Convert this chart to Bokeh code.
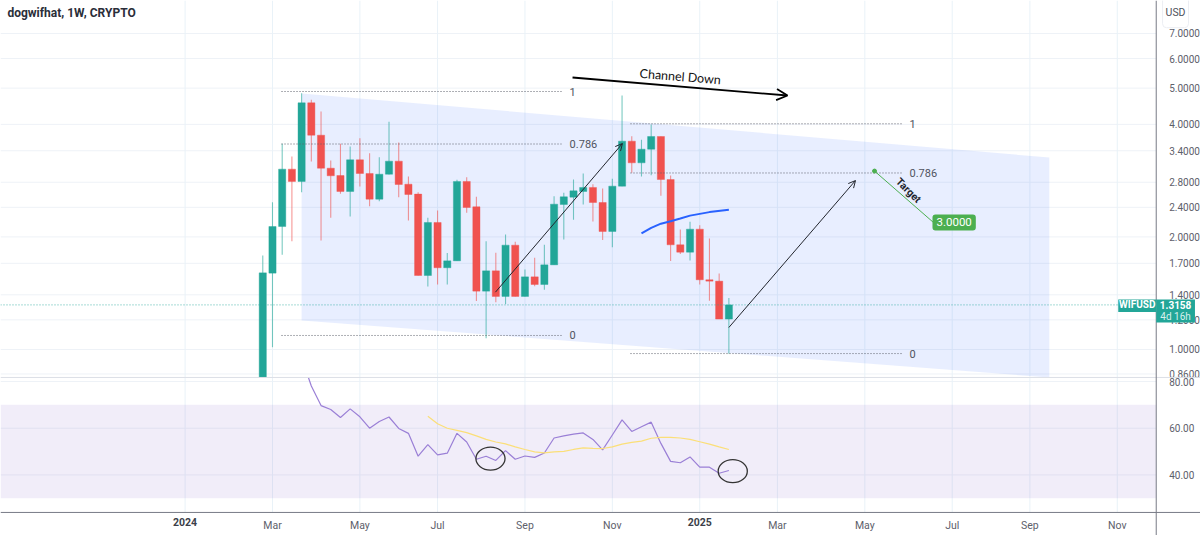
import datetime as dt
import math
from bokeh.embed import file_html
from bokeh.models import (Arrow, BoxAnnotation, ColumnDataSource, Ellipse, FixedTicker, Label, LinearScale,
                          OpenHead, PrintfTickFormatter, Range1d, Span)
from bokeh.plotting import figure
from bokeh.resources import INLINE

# ---- data ----
first_week = dt.datetime(2024, 2, 26)
opens = [0.8416, 1.600, 2.132, 3.036, 2.814, 4.567, 3.742, 3.054, 2.919, 2.646, 3.215, 2.956, 2.524, 2.943, 3.189, 2.768,
         2.603, 1.577, 2.186, 1.654, 1.726, 2.814, 2.407, 1.432, 1.623, 1.386, 1.901, 1.386, 1.564, 1.492, 1.684, 2.442,
         2.555, 2.646, 2.712, 2.472, 2.068, 2.734, 3.607, 3.156, 3.433, 3.712, 2.848, 1.905, 1.821, 2.098, 1.536, 1.523, 1.206]
highs = [1.784, 2.477, 3.548, 3.282, 4.846, 4.652, 4.330, 3.202, 3.548, 3.490, 3.674, 3.350, 3.268, 4.063, 3.578, 2.902,
         2.635, 2.250, 2.354, 1.810, 2.842, 2.890, 2.560, 1.948, 1.813, 2.030, 1.940, 1.636, 1.759, 1.905, 2.571, 2.624,
         2.848, 2.956, 2.768, 2.695, 2.860, 4.778, 3.719, 3.636, 3.996, 3.712, 2.919, 2.094, 2.195, 2.150, 1.981, 1.597, 1.372]
lows = [0.8416, 1.014, 1.791, 1.948, 2.635, 3.183, 1.956, 2.250, 2.608, 2.268, 2.728, 2.417, 2.493, 2.938, 2.555, 2.213,
        1.577, 1.474, 1.492, 1.492, 1.726, 2.320, 1.347, 1.072, 1.338, 1.322, 1.386, 1.386, 1.477, 1.444, 1.684, 1.968,
        2.222, 2.442, 2.199, 1.961, 1.878, 2.734, 2.968, 2.902, 2.926, 2.576, 1.723, 1.799, 1.730, 1.492, 1.349, 1.206, 0.974]
closes = [1.603, 2.132, 3.036, 2.814, 4.567, 3.742, 3.054, 2.914, 2.646, 3.215, 2.956, 2.524, 2.943, 3.189, 2.762, 2.597,
          1.577, 2.186, 1.654, 1.726, 2.814, 2.397, 1.432, 1.623, 1.386, 1.901, 1.386, 1.564, 1.492, 1.684, 2.447, 2.560,
          2.656, 2.712, 2.472, 2.068, 2.734, 3.607, 3.156, 3.433, 3.712, 2.848, 1.905, 1.821, 2.098, 1.536, 1.523, 1.206, 1.3158]
rsi_weeks = [4.7] + list(range(5, 49))
rsi_values = [81.7, 78.1, 69.7, 68.0, 64.6, 68.3, 64.9, 60.0, 62.9, 64.8, 59.9, 57.8, 48.0, 53.0, 48.6, 49.3, 57.8, 54.1,
              46.7, 48.0, 46.2, 50.4, 46.7, 48.1, 47.5, 49.4, 55.8, 56.7, 57.5, 58.0, 55.2, 50.7, 57.1, 63.6, 58.6, 60.6,
              62.6, 53.5, 45.8, 45.2, 47.7, 43.3, 43.3, 40.7, 41.9]
rsi_ma_first_index = 17
rsi_ma_values = [65.1, 61.9, 60.0, 59.1, 58.1, 56.7, 55.2, 54.1, 53.3, 52.0, 50.9, 49.9, 49.4, 49.9, 50.1, 50.9, 51.6, 51.4,
                 51.3, 52.0, 53.2, 53.9, 54.5, 55.7, 56.1, 56.1, 55.8, 55.2, 54.2, 53.2, 52.0, 50.9]
price_ticks = [0.86, 1.0, 1.2, 1.4, 1.7, 2.0, 2.4, 2.8, 3.4, 4.0, 5.0, 6.0, 7.0]
rsi_ticks = [40, 60, 80]
month_tick_weeks = [1, 10, 18, 27, 36, 53, 62, 71, 79, 88]
month_tick_labels = ["Mar", "May", "Jul", "Sep", "Nov", "Mar", "May", "Jul", "Sep", "Nov"]
year_tick_weeks = [-8, 45]
year_tick_labels = ["2024", "2025"]
last_price = 1.3158

# drawings, in weeks from the first candle and price
channel_weeks = [4, 81, 81, 4]
channel_prices = [4.837, 3.262, 0.8416, 1.196]
curve_weeks = [39, 40, 41, 42, 43, 44, 46, 48]
curve_prices = [2.043, 2.115, 2.17, 2.203, 2.24, 2.28, 2.33, 2.363]
fib_left_weeks = [1.93, 30.76]
fib_left_prices = [4.897, 3.544, 1.090]
fib_right_weeks = [37.87, 65.87]
fib_right_prices = [4.014, 2.965, 0.975]
fib_labels = ["1", "0.786", "0"]
up_arrow_a = [23.96, 1.423, 37.04, 3.555]
up_arrow_b = [48.0, 1.145, 61.04, 2.83]
channel_arrow = [31.9, 5.338, 54.04, 4.778]
target_line = [63.0, 3.0, 69.07, 2.186]
rsi_circles = [(23.45, 47.0), (48.4, 41.6)]

WEEK_MS = 7 * 24 * 3600 * 1000
T0 = first_week.replace(tzinfo=dt.timezone.utc).timestamp() * 1000


def wk(i):
    return T0 + i * WEEK_MS


FONT = "Roboto"
GRID = "#eef2f7"
AXIS = "#787b86"
TEXT = "#50535e"
UP = "#22a698"
DOWN = "#f0524f"
PRICE_LO, PRICE_HI = 0.318, 8.577
RSI_LO, RSI_HI = 14.05, 243.2
PANE_FLOOR = 0.8416   # price at the foot of the price pane
TIME_FLOOR = 0.3665   # level of the time axis
X_END = 92.01         # week at the price axis


def rsi_to_price(v):
    f = (v - RSI_LO) / (RSI_HI - RSI_LO)
    return math.exp(math.log(PRICE_LO) + f * (math.log(PRICE_HI) - math.log(PRICE_LO)))


p = figure(width=1200, height=535, frame_width=1200, frame_height=535, y_axis_type="log",
           x_range=Range1d(wk(-27.01), wk(96.57)), y_range=Range1d(PRICE_LO, PRICE_HI),
           y_axis_location="right", output_backend="svg", toolbar_location=None)
p.extra_y_ranges = {"rsi": Range1d(RSI_LO, RSI_HI)}
p.extra_y_scales = {"rsi": LinearScale()}
p.min_border_left = p.min_border_top = p.min_border_bottom = p.min_border_right = 0
p.outline_line_color = None
p.grid.visible = False

# grid lines, only up to the axes
rsi_tick_pos = [rsi_to_price(v) for v in rsi_ticks]
all_y = price_ticks + rsi_tick_pos
p.segment([wk(-27.01)] * len(all_y), all_y, [wk(X_END)] * len(all_y), all_y, line_color=GRID, line_width=1, level="underlay")
xt = month_tick_weeks + year_tick_weeks
p.segment([wk(w) for w in xt], [TIME_FLOOR] * len(xt), [wk(w) for w in xt], [PRICE_HI] * len(xt), line_color="#e9f2f8", line_width=1, level="underlay")

ya = p.yaxis[0]
ya.fixed_location = wk(X_END)
ya.ticker = FixedTicker(ticks=all_y)
ya.formatter = PrintfTickFormatter(format="%.4f")
ya.major_label_overrides = {pos: f"{v:.2f}" for pos, v in zip(rsi_tick_pos, rsi_ticks)}
ya.axis_line_color = None
ya.major_tick_line_color = None
ya.minor_tick_line_color = None
ya.major_label_standoff = 7
ya.major_label_text_font = FONT
ya.major_label_text_font_size = "10px"
ya.major_label_text_color = "#5d606b"

xa = p.xaxis[0]
xa.fixed_location = TIME_FLOOR
xa.ticker = FixedTicker(ticks=[wk(w) for w in xt])
xa.major_label_overrides = {wk(w): l for w, l in zip(month_tick_weeks, month_tick_labels)} | {wk(w): " " for w in year_tick_weeks}
xa.axis_line_color = None
xa.major_tick_line_color = None
xa.minor_tick_line_color = None
xa.major_label_standoff = 1
xa.major_label_text_font = FONT
xa.major_label_text_font_size = "10.5px"
xa.major_label_text_color = "#5d606b"
for w, l in zip(year_tick_weeks, year_tick_labels):
    p.add_layout(Label(x=wk(w), y=0.3446, text=l, text_font=FONT, text_font_size="10.5px", text_color="#3c3f49",
                       text_font_style="bold", text_align="center", text_baseline="middle"))

# pane separator and axis lines
p.add_layout(Span(location=PANE_FLOOR, dimension="width", line_color="#dcdfe6", line_width=1))
p.add_layout(Span(location=TIME_FLOOR, dimension="width", line_color=AXIS, line_width=1))
p.add_layout(Span(location=wk(X_END), dimension="height", line_color=AXIS, line_width=1))

# ---- price pane ----
p.patch([wk(w) for w in channel_weeks], channel_prices, fill_color="#2962ff", fill_alpha=0.105, line_color=None)

x_all = [wk(i) for i in range(len(opens))]
colors = [UP if c >= o else DOWN for o, c in zip(opens, closes)]
src = ColumnDataSource(dict(x=x_all, o=opens, h=highs, l=lows, c=closes,
                            top=[max(a, b) for a, b in zip(opens, closes)],
                            bot=[min(a, b) for a, b in zip(opens, closes)], color=colors))
p.segment("x", "h", "x", "l", source=src, line_color="color", line_alpha=0.6, line_width=1.1)
p.vbar("x", width=0.74 * WEEK_MS, top="top", bottom="bot", source=src, fill_color="color", line_color="color", line_width=0.4)

p.line([wk(-27.01), wk(88.1)], [last_price, last_price], line_color=UP, line_alpha=0.8, line_width=1, line_dash=[1, 2])

for price in fib_left_prices:
    p.line([wk(w) for w in fib_left_weeks], [price, price], line_color="#5d606b", line_width=1, line_dash=[1, 2])
for price in fib_right_prices:
    p.line([wk(w) for w in fib_right_weeks], [price, price], line_color="#5d606b", line_width=1, line_dash=[1, 2])
for label, price in zip(fib_labels, fib_left_prices):
    p.add_layout(Label(x=wk(31.6), y=price, text=label, text_font=FONT, text_font_size="11px", text_color=TEXT, text_baseline="middle"))
for label, price in zip(fib_labels, fib_right_prices):
    p.add_layout(Label(x=wk(66.6), y=price, text=label, text_font=FONT, text_font_size="11px", text_color=TEXT, text_baseline="middle"))

p.line([wk(w) for w in curve_weeks], curve_prices, line_color="#2962ff", line_width=2)

for a in (up_arrow_a, up_arrow_b):
    p.add_layout(Arrow(x_start=wk(a[0]), y_start=a[1], x_end=wk(a[2]), y_end=a[3], line_color="#22252d", line_width=1,
                       end=OpenHead(size=7, line_color="#22252d", line_width=1)))
a = channel_arrow
p.add_layout(Arrow(x_start=wk(a[0]), y_start=a[1], x_end=wk(a[2]), y_end=a[3], line_color="#000000", line_width=1.8,
                   end=OpenHead(size=11, line_color="#000000", line_width=1.8)))
p.add_layout(Label(x=wk(43), y=5.37, text="Channel Down", text_font="Lato", text_font_size="12.5px", text_color="#111111",
                   angle=-0.08, text_align="center", text_baseline="middle"))

t = target_line
p.line([wk(t[0]), wk(t[2])], [t[1], t[3]], line_color="#4caf50", line_width=1)
p.scatter([wk(t[0])], [t[1]], size=4, color="#4caf50")
p.add_layout(Label(x=wk(66.5), y=2.662, text="Target", text_font=FONT, text_font_size="10.5px", text_color="#22252d",
                   text_font_style="bold", angle=-0.78, text_align="center", text_baseline="middle"))
p.add_layout(Label(x=wk(71.2), y=t[3], text="3.0000", text_font=FONT, text_font_size="11.5px", text_color="#ffffff",
                   text_align="center", text_baseline="middle", background_fill_color="#4caf50",
                   border_radius=3, padding=4))

# price badges
p.add_layout(BoxAnnotation(left=wk(88.1), right=wk(X_END), top=1.3606, bottom=1.259, fill_color=UP, fill_alpha=1, line_color=None))
p.add_layout(Label(x=wk(90.05), y=last_price, text="WIFUSD", text_font=FONT, text_font_size="10px", text_color="#ffffff",
                   text_font_style="bold", text_align="center", text_baseline="middle"))
p.add_layout(BoxAnnotation(left=wk(X_END), right=wk(96.0), top=1.3606, bottom=1.181, fill_color=UP, fill_alpha=1, line_color=None))
p.add_layout(Label(x=wk(94.0), y=last_price, text="1.3158", text_font=FONT, text_font_size="10px", text_color="#ffffff",
                   text_font_style="bold", text_align="center", text_baseline="middle"))
p.add_layout(Label(x=wk(94.0), y=1.223, text="4d 16h", text_font=FONT, text_font_size="10px", text_color="#d7f0ed",
                   text_align="center", text_baseline="middle"))
p.add_layout(Label(x=wk(94.0), y=7.98, text="USD", text_font=FONT, text_font_size="10.5px", text_color="#4f525c",
                   text_align="center", text_baseline="middle", background_fill_color="#ffffff",
                   border_line_color="#eceef3", border_radius=4, padding=(3, 9)))
p.add_layout(Label(x=wk(-26.3), y=7.92, text="dogwifhat, 1W, CRYPTO", text_font=FONT, text_font_size="12px",
                   text_color="#2a2e39", text_font_style="bold", text_baseline="middle"))

# ---- RSI pane ----
p.add_layout(BoxAnnotation(left=wk(-27.01), right=wk(X_END), top=70, bottom=30, y_range_name="rsi", fill_color="#7e57c2",
                           fill_alpha=0.105, line_color=None, level="underlay"))
p.line([wk(w) for w in rsi_weeks], rsi_values, y_range_name="rsi", line_color="#9a7fd6", line_width=1.2)
p.line([wk(rsi_ma_first_index + i) for i in range(len(rsi_ma_values))], rsi_ma_values, y_range_name="rsi", line_color="#fbdf78", line_width=1.2)
p.add_glyph(ColumnDataSource(dict(x=[wk(c[0]) for c in rsi_circles], y=[c[1] for c in rsi_circles])),
            Ellipse(x="x", y="y", width=3.0 * WEEK_MS, height=9.85, fill_color=None, line_color="#333333", line_width=1.3),
            y_range_name="rsi")

open("out.html", "w").write(file_html(p, INLINE))
